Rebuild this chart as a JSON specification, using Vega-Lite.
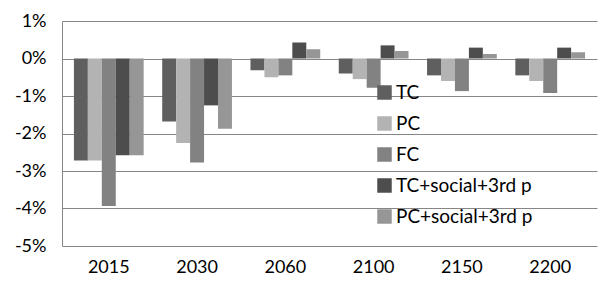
{
  "$schema": "https://vega.github.io/schema/vega-lite/v6.json",
  "width": 535,
  "height": 225,
  "autosize": "none",
  "padding": {"left": 62, "top": 21, "right": 3, "bottom": 44},
  "background": "white",
  "config": {
    "view": {"stroke": null},
    "font": "Lato",
    "axis": {"labelFont": "Lato", "labelColor": "#000000"}
  },
  "data": {
    "values": [
      {"year": "2015", "series": "TC", "value": -0.0272},
      {"year": "2015", "series": "PC", "value": -0.0272},
      {"year": "2015", "series": "FC", "value": -0.0393},
      {"year": "2015", "series": "TC+social+3rd p", "value": -0.0258},
      {"year": "2015", "series": "PC+social+3rd p", "value": -0.0258},
      {"year": "2030", "series": "TC", "value": -0.0168},
      {"year": "2030", "series": "PC", "value": -0.0225},
      {"year": "2030", "series": "FC", "value": -0.0277},
      {"year": "2030", "series": "TC+social+3rd p", "value": -0.0125},
      {"year": "2030", "series": "PC+social+3rd p", "value": -0.0187},
      {"year": "2060", "series": "TC", "value": -0.0031},
      {"year": "2060", "series": "PC", "value": -0.005},
      {"year": "2060", "series": "FC", "value": -0.0045},
      {"year": "2060", "series": "TC+social+3rd p", "value": 0.0043},
      {"year": "2060", "series": "PC+social+3rd p", "value": 0.0025},
      {"year": "2100", "series": "TC", "value": -0.004},
      {"year": "2100", "series": "PC", "value": -0.0055},
      {"year": "2100", "series": "FC", "value": -0.0078},
      {"year": "2100", "series": "TC+social+3rd p", "value": 0.0035},
      {"year": "2100", "series": "PC+social+3rd p", "value": 0.002},
      {"year": "2150", "series": "TC", "value": -0.0045},
      {"year": "2150", "series": "PC", "value": -0.006},
      {"year": "2150", "series": "FC", "value": -0.0087},
      {"year": "2150", "series": "TC+social+3rd p", "value": 0.0029},
      {"year": "2150", "series": "PC+social+3rd p", "value": 0.0012},
      {"year": "2200", "series": "TC", "value": -0.0045},
      {"year": "2200", "series": "PC", "value": -0.006},
      {"year": "2200", "series": "FC", "value": -0.0092},
      {"year": "2200", "series": "TC+social+3rd p", "value": 0.0029},
      {"year": "2200", "series": "PC+social+3rd p", "value": 0.0017}
    ]
  },
  "mark": {"type": "bar"},
  "encoding": {
    "x": {
      "field": "year",
      "type": "nominal",
      "scale": {"paddingInner": 0.21, "paddingOuter": 0.135},
      "axis": {
        "title": null,
        "labelAngle": 0,
        "labelFontSize": 18,
        "labelPadding": 12,
        "ticks": false,
        "domain": false,
        "orient": "bottom"
      }
    },
    "xOffset": {
      "field": "series",
      "type": "nominal",
      "sort": ["TC", "PC", "FC", "TC+social+3rd p", "PC+social+3rd p"],
      "scale": {"paddingInner": 0, "paddingOuter": 0}
    },
    "y": {
      "field": "value",
      "type": "quantitative",
      "scale": {"domain": [-0.05, 0.01], "nice": false},
      "axis": {
        "title": null,
        "format": ".0%",
        "labelExpr": "replace(datum.label, '\u2212', '-')",
        "values": [-0.05, -0.04, -0.03, -0.02, -0.01, 0, 0.01],
        "labelOverlap": false,
        "labelFontSize": 18,
        "labelPadding": 16,
        "ticks": false,
        "domainColor": "#868686",
        "gridColor": "#868686",
        "gridWidth": 1
      }
    },
    "color": {
      "field": "series",
      "type": "nominal",
      "sort": ["TC", "PC", "FC", "TC+social+3rd p", "PC+social+3rd p"],
      "scale": {
        "domain": ["TC", "PC", "FC", "TC+social+3rd p", "PC+social+3rd p"],
        "range": ["#5f5f5f", "#b3b3b3", "#828282", "#4d4d4d", "#969696"]
      },
      "legend": {
        "title": null,
        "orient": "none",
        "legendX": 313,
        "legendY": 62,
        "symbolType": "square",
        "symbolSize": 210,
        "symbolStrokeWidth": 0,
        "labelFontSize": 19,
        "labelFont": "Lato",
        "labelOffset": 2,
        "rowPadding": 11,
        "labelColor": "#000000"
      }
    }
  }
}
